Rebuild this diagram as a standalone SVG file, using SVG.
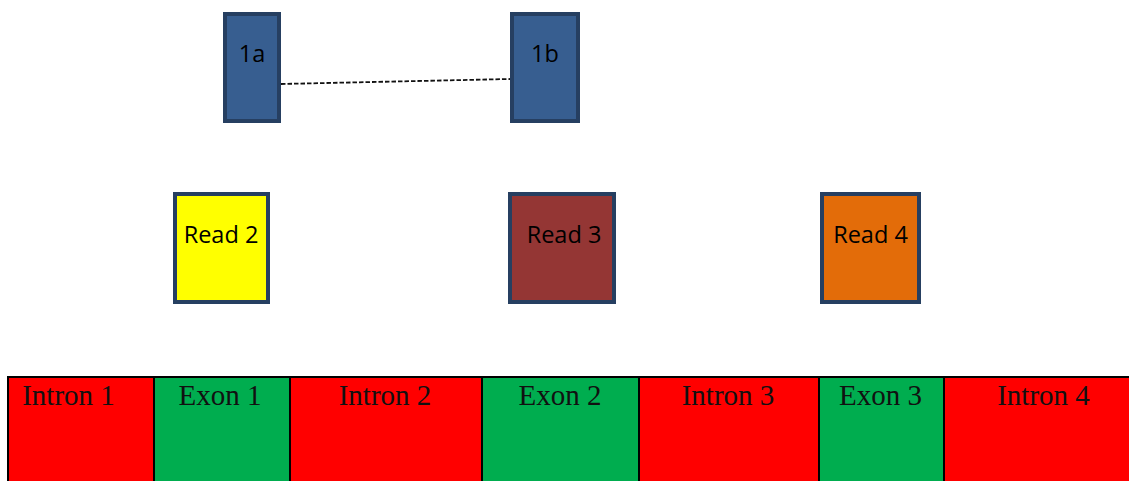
<svg xmlns="http://www.w3.org/2000/svg" width="1129" height="481" viewBox="0 0 1129 481">
  <style>
    .box { stroke: #263f61; stroke-width: 4; }
    .blue { fill: #375e90; }
    .lbl { font-family: "Open Sans", "Noto Sans", sans-serif; font-size: 23.5px; fill: #000; text-anchor: middle; }
    .cell { stroke: #000; stroke-width: 2; }
    .intron { fill: #ff0000; }
    .exon { fill: #00ad4f; }
    .seg { font-family: "Liberation Serif", "Times New Roman", serif; font-size: 29px; fill: #111; text-anchor: middle; }
    .link { stroke: #111; stroke-width: 1.8; stroke-dasharray: 4.5 2; fill: none; }
  </style>

  <!-- gene structure strip -->
  <g id="gene">
    <rect class="cell intron" x="8" y="377" width="146" height="110"/>
    <rect class="cell exon" x="154" y="377" width="136" height="110"/>
    <rect class="cell intron" x="290" y="377" width="192" height="110"/>
    <rect class="cell exon" x="482" y="377" width="157" height="110"/>
    <rect class="cell intron" x="639" y="377" width="180" height="110"/>
    <rect class="cell exon" x="819" y="377" width="125" height="110"/>
    <rect class="cell intron" x="944" y="377" width="200" height="110"/>
    <text class="seg" x="68.5" y="405">Intron 1</text>
    <text class="seg" x="220" y="405">Exon 1</text>
    <text class="seg" x="385" y="405">Intron 2</text>
    <text class="seg" x="560" y="405">Exon 2</text>
    <text class="seg" x="728" y="405">Intron 3</text>
    <text class="seg" x="880.5" y="405">Exon 3</text>
    <text class="seg" x="1043.5" y="405">Intron 4</text>
  </g>

  <!-- connectors -->
  <g id="connectors">
    <line class="link" x1="281" y1="84" x2="510" y2="79"/>
  </g>

  <g id="read1a">
    <rect class="box blue" x="225" y="14" width="54" height="107"/>
    <text class="lbl" x="252" y="62">1a</text>
  </g>
  <g id="read1b">
    <rect class="box blue" x="512" y="14" width="66" height="107"/>
    <text class="lbl" x="545" y="62">1b</text>
  </g>

  <g id="read2">
    <rect class="box" x="175" y="194" width="93" height="108" fill="#ffff00"/>
    <text class="lbl" x="221" y="243">Read 2</text>
  </g>
  <g id="read3">
    <rect class="box" x="510" y="194" width="104" height="108" fill="#943634"/>
    <text class="lbl" x="564" y="243">Read 3</text>
  </g>
  <g id="read4">
    <rect class="box" x="822" y="194" width="97" height="108" fill="#e36c09"/>
    <text class="lbl" x="870.5" y="243">Read 4</text>
  </g>
</svg>
